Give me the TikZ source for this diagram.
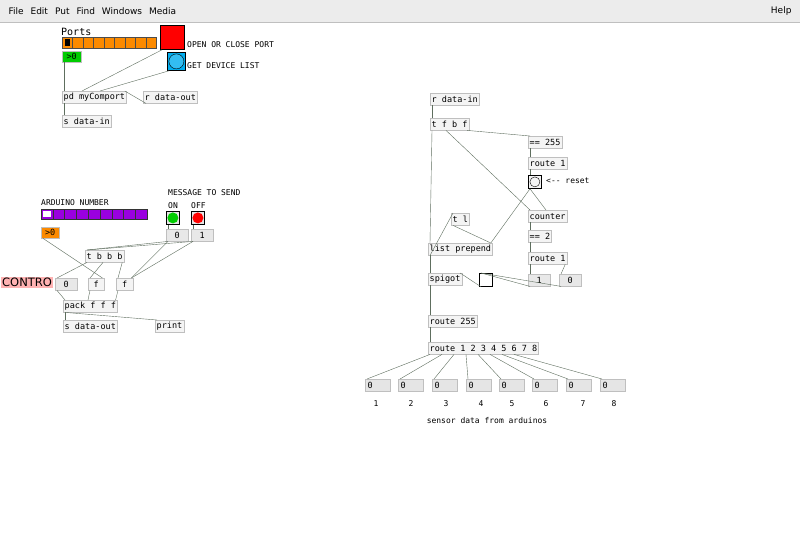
\documentclass[tikz,border=0pt]{standalone}
\usepackage{fontspec}
\setmainfont{DejaVu Sans}
\newfontfamily\pdfont{DejaVu Sans Mono}
\usetikzlibrary{positioning, calc}
\definecolor{pdgray}{HTML}{F4F4F4}
\definecolor{pdline}{HTML}{5E6E5E}
\definecolor{pdorange}{HTML}{FC8A00}
\definecolor{pdpurple}{HTML}{9A00E0}
\tikzset{
    obj/.style={draw=gray!50, fill=pdgray, anchor=north west, minimum height=12pt, inner sep=1.5pt, font=\pdfont\fontsize{8.5}{9}\selectfont},
    msg/.style={obj, fill=pdgray!90!gray},
    numbox/.style={obj, fill=gray!20, minimum width=25pt, text width=20pt, align=left},
    cord/.style={draw=pdline, thin},
    note/.style={anchor=west, inner sep=0pt, font=\pdfont\fontsize{8}{9}\selectfont},
    bng/.style={draw=black, thick, anchor=north west, inner sep=0pt},
}
\begin{document}
\begin{tikzpicture}[x=1pt, y=-1pt]
    \useasboundingbox (0,0) rectangle (800,541);
    \fill[white] (0,0) rectangle (800,541);
    % menu bar
    \fill[gray!15] (0,0) rectangle (800,22);
    \draw[gray!50] (0,22) -- (800,22);
    \node[anchor=west, font=\fontsize{9}{10}\selectfont] (menu) at (5,11) {File\hspace{7pt}Edit\hspace{7pt}Put\hspace{7pt}Find\hspace{7pt}Windows\hspace{7pt}Media};
    \node[anchor=east, font=\fontsize{9}{10}\selectfont] (help) at (795,11) {Help};

    % port selection
    \node[anchor=south west, inner sep=0pt, font=\pdfont\fontsize{10}{10}\selectfont] (ports) at (61,36) {Ports};
    \foreach \i in {0,...,8}
        \draw[fill=pdorange, draw=black!70] (62+\i*10.5,37) rectangle ++(10.5,11);
    \fill[black] (64.5,39) rectangle (70,46);
    \node[bng, fill=red, minimum size=24pt] (openbng) at (160,25) {};
    \node[note] (opentxt) at (187,45) {OPEN OR CLOSE PORT};
    \node[obj, fill=green!80!black, minimum width=19pt, minimum height=11pt] (portnum) at (62,51) {>0};
    \node[bng, fill=cyan, minimum size=18pt] (listbng) at (167,52) {};
    \fill[cyan!80!white] (listbng.center) circle (7.5pt);
    \draw (listbng.center) circle (7.5pt);
    \node[note] (listtxt) at (187,66) {GET DEVICE LIST};
    \node[obj, minimum width=60pt] (comport) at (62,91) {pd myComport};
    \node[obj, minimum width=50pt] (rout) at (143,91) {r data-out};
    \node[obj, minimum width=46pt] (sin) at (62,115) {s data-in};
    \draw[cord] ([xshift=2pt]portnum.south west) -- ([xshift=2pt]comport.north west);
    \draw[cord] ([xshift=2pt]openbng.south west) -- ([xshift=20pt]comport.north west);
    \draw[cord] ([xshift=2pt]listbng.south west) -- ([xshift=38pt]comport.north west);
    \draw[cord] ([xshift=3pt]rout.south west) -- ([xshift=-2pt]comport.north east);
    \draw[cord] ([xshift=2pt]comport.south west) -- ([xshift=2pt]sin.north west);

    % message to send
    \node[note] (sendtxt) at (168,193) {MESSAGE TO SEND};
    \node[note] (ontxt) at (168,206) {ON};
    \node[note] (offtxt) at (191,206) {OFF};
    \node[bng, fill=gray!20, minimum size=13pt] (onbng) at (166,211) {};
    \fill[green!80!black] (onbng.center) circle (5.5pt);
    \node[bng, fill=gray!20, minimum size=13pt] (offbng) at (191,211) {};
    \fill[red] (offbng.center) circle (5.5pt);
    \node[msg, minimum width=22pt] (msgon) at (166,229) {0};
    \node[msg, minimum width=22pt] (msgoff) at (191,229) {1};
    \node[note] (ardtxt) at (41,203) {ARDUINO NUMBER};
    \foreach \i in {0,...,8}
        \draw[fill=pdpurple, draw=black!80] (41+\i*11.8,209) rectangle ++(11.8,10);
    \fill[white] (43,211) rectangle (51,217);
    \node[obj, fill=pdorange, minimum width=18pt, minimum height=11pt] (ardnum) at (41,227) {>0};
    \node[obj, minimum width=38pt] (trig) at (85,250) {t b b b};
    \node[anchor=north west, inner sep=1pt, fill=red!30, font=\fontsize{11.5}{12}\selectfont] (contro) at (1,277) {CONTRO};
    \node[msg, minimum width=22pt] (msgard) at (55,278) {0};
    \node[obj, minimum width=16pt] (fard) at (88,278) {f};
    \node[obj, minimum width=17pt] (fval) at (116,278) {f};
    \node[obj, minimum width=50pt] (pack) at (63,300) {pack f f f};
    \node[obj, minimum width=52pt] (sout) at (63,320) {s data-out};
    \node[obj, minimum width=28pt] (print) at (155,320) {print};
    \draw[cord] ([xshift=2pt]onbng.south west) -- ([xshift=2pt]msgon.north west);
    \draw[cord] ([xshift=2pt]offbng.south west) -- ([xshift=2pt]msgoff.north west);
    \draw[cord] ([xshift=2pt]msgon.south west) -- ([xshift=2pt]trig.north west);
    \draw[cord] ([xshift=2pt]msgoff.south west) -- ([xshift=2pt]trig.north west);
    \draw[cord] ([xshift=2pt]msgon.south west) -- ([xshift=-2pt]fval.north east);
    \draw[cord] ([xshift=2pt]msgoff.south west) -- ([xshift=-2pt]fval.north east);
    \draw[cord] ([xshift=2pt]ardnum.south west) -- ([xshift=-2pt]fard.north east);
    \draw[cord] ([xshift=2pt]trig.south west) -- ([xshift=2pt]msgard.north west);
    \draw[cord] ([xshift=18pt]trig.south west) -- ([xshift=2pt]fard.north west);
    \draw[cord] ([xshift=-2pt]trig.south east) -- ([xshift=2pt]fval.north west);
    \draw[cord] ([xshift=2pt]msgard.south west) -- ([xshift=2pt]pack.north west);
    \draw[cord] ([xshift=2pt]fard.south west) -- ([xshift=25pt]pack.north west);
    \draw[cord] ([xshift=2pt]fval.south west) -- ([xshift=-2pt]pack.north east);
    \draw[cord] ([xshift=2pt]pack.south west) -- ([xshift=2pt]sout.north west);
    \draw[cord] ([xshift=2pt]pack.south west) -- ([xshift=2pt]print.north west);

    % incoming data
    \node[obj, minimum width=46pt] (rin) at (430,93) {r data-in};
    \node[obj, minimum width=36pt] (tfbf) at (430,118) {t f b f};
    \node[obj, minimum width=32pt] (eq255) at (528,136) {== 255};
    \node[obj, minimum width=36pt] (rte1) at (528,157) {route 1};
    \node[bng, fill=pdgray, minimum size=13pt] (reset) at (528,175) {};
    \draw (reset.center) circle (5pt);
    \node[note] (resettxt) at (546,181) {<-- reset};
    \node[obj, minimum width=37pt] (counter) at (528,210) {counter};
    \node[obj, minimum width=22pt] (eq2) at (528,230) {== 2};
    \node[obj, minimum width=36pt] (rte2) at (528,252) {route 1};
    \node[msg, minimum width=22pt] (msgone) at (528,274) {1};
    \node[msg, minimum width=22pt] (msgzero) at (559,274) {0};
    \node[obj, minimum width=16pt] (tl) at (451,213) {t l};
    \node[obj, minimum width=60pt] (prepend) at (428,243) {list prepend};
    \node[obj, minimum width=32pt] (spigot) at (428,273) {spigot};
    \node[bng, fill=white, minimum size=13pt] (tgl) at (479,273) {};
    \node[obj, minimum width=46pt] (rte255) at (428,315) {route 255};
    \node[obj, minimum width=102pt] (rtes) at (428,342) {route 1 2 3 4 5 6 7 8};
    \draw[cord] ([xshift=2pt]rin.south west) -- ([xshift=2pt]tfbf.north west);
    \draw[cord] ([xshift=2pt]tfbf.south west) -- ([xshift=2pt]prepend.north west);
    \draw[cord] ([xshift=16pt]tfbf.south west) -- ([xshift=2pt]counter.north west);
    \draw[cord] ([xshift=-2pt]tfbf.south east) -- ([xshift=2pt]eq255.north west);
    \draw[cord] ([xshift=2pt]eq255.south west) -- ([xshift=2pt]rte1.north west);
    \draw[cord] ([xshift=2pt]rte1.south west) -- ([xshift=2pt]reset.north west);
    \draw[cord] ([xshift=2pt]reset.south west) -- ([xshift=18pt]counter.north west);
    \draw[cord] ([xshift=2pt]reset.south west) -- ([xshift=-2pt]prepend.north east);
    \draw[cord] ([xshift=2pt]counter.south west) -- ([xshift=2pt]eq2.north west);
    \draw[cord] ([xshift=2pt]eq2.south west) -- ([xshift=2pt]rte2.north west);
    \draw[cord] ([xshift=2pt]rte2.south west) -- ([xshift=2pt]msgone.north west);
    \draw[cord] ([xshift=-2pt]rte2.south east) -- ([xshift=2pt]msgzero.north west);
    \draw[cord] ([xshift=2pt]prepend.south west) -- ([xshift=2pt]tl.north west);
    \draw[cord] ([xshift=2pt]tl.south west) -- ([xshift=-2pt]prepend.north east);
    \draw[cord] ([xshift=2pt]prepend.south west) -- ([xshift=2pt]spigot.north west);
    \draw[cord] ([xshift=2pt]msgone.south west) -- ([xshift=2pt]tgl.north west);
    \draw[cord] ([xshift=2pt]msgzero.south west) -- ([xshift=2pt]tgl.north west);
    \draw[cord] ([xshift=2pt]tgl.south west) -- ([xshift=-2pt]spigot.north east);
    \draw[cord] ([xshift=2pt]spigot.south west) -- ([xshift=2pt]rte255.north west);
    \draw[cord] ([xshift=2pt]rte255.south west) -- ([xshift=2pt]rtes.north west);

    % sensor outputs
    \foreach \i/\x/\lx in {1/365/376, 2/398/411, 3/432/446, 4/466/481, 5/499/512, 6/532/546, 7/566/583, 8/600/614} {
        \node[numbox] (sens\i) at (\x,379) {0};
        \node[note, anchor=center] (lab\i) at (\lx,404) {\i};
        \draw[cord] ([xshift={2pt+(\i-1)*12pt}]rtes.south west) -- ([xshift=2pt]sens\i.north west);
    }
    \node[note, anchor=center] (sensortxt) at (487,421) {sensor data from arduinos};
\end{tikzpicture}
\end{document}
